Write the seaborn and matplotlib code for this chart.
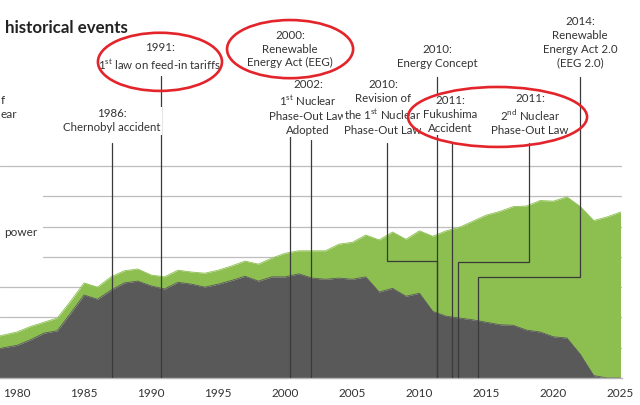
import matplotlib
matplotlib.use("Agg")
import matplotlib.pyplot as plt
from matplotlib.patches import Ellipse
import seaborn as sns
import pandas as pd

# generation in TWh
years = list(range(1978, 2026))
nuclear = [45, 50, 54, 63, 74, 78, 107, 137, 130, 145, 157, 160, 152, 147, 158, 155,
           150, 155, 161, 168, 160, 167, 167, 172, 165, 163, 165, 163, 167, 142, 148, 135,
           140, 110, 102, 99, 96, 92, 88, 87, 79, 76, 68, 66, 39, 4, 0, 0]
total = [66, 71, 76, 85, 92, 99, 127, 157, 150, 167, 177, 180, 170, 167, 178, 175,
         173, 178, 185, 193, 188, 198, 206, 210, 210, 210, 221, 224, 236, 228, 241, 229,
         243, 234, 243, 249, 259, 269, 275, 283, 284, 293, 292, 299, 283, 260, 266, 274]

tick_years = [1980, 1985, 1990, 1995, 2000, 2005, 2010, 2015, 2020, 2025]
grid_levels = [50, 100, 150, 200, 250, 300, 350]

# event labels: text, label x, label y, line top, line x at label, elbow y, line x at bottom
event_texts = [
    "1986:\nChernobyl accident",
    "1991:\n1$^{\\mathrm{st}}$ law on feed-in tariffs",
    "2000:\nRenewable\nEnergy Act (EEG)",
    "2002:\n1$^{\\mathrm{st}}$ Nuclear\nPhase-Out Law\nAdopted",
    "2010:\nRevision of\nthe 1$^{\\mathrm{st}}$ Nuclear\nPhase-Out Law",
    "2010:\nEnergy Concept",
    "2011:\nFukushima\nAccident",
    "2011:\n2$^{\\mathrm{nd}}$ Nuclear\nPhase-Out Law",
    "2014:\nRenewable\nEnergy Act 2.0\n(EEG 2.0)",
]
event_label_x = [1987.08, 1990.66, 2000.36, 2001.70, 2007.29, 2011.32, 2012.29, 2018.25, 2021.98]
event_label_y = [425, 530, 543, 447, 447, 531, 435, 435, 554]
event_line_top = [388, 499, 497, 393, 388, 497, 388, 388, 497]
event_top_x = [1987.08, 1990.74, 2000.36, 2001.92, 2007.59, 2011.32, 2012.44, 2018.18, 2021.98]
event_elbow_y = [None, None, None, None, 193, None, None, 192, 167]
event_base_x = [1987.08, 1990.74, 2000.36, 2001.92, 2011.32, 2011.32, 2012.44, 2012.89, 2014.38]

# red circles: centre x, centre y, width (years), height
circle_x = [1990.66, 2000.36, 2015.83]
circle_y = [522, 543, 431]
circle_w = [9.25, 9.4, 13.35]
circle_h = [96, 96, 99]

df = pd.DataFrame({"year": years, "nuclear": nuclear, "total": total})

sns.set_theme(style="white")
plt.rcParams['font.family'] = ['Lato', 'DejaVu Sans']
plt.rcParams['mathtext.fontset'] = 'custom'
plt.rcParams['mathtext.rm'] = 'Lato'

fig = plt.figure(figsize=(6.4, 4.05), dpi=100)
ax = fig.add_axes([0, 27 / 405, 622 / 640, 378 / 405])

grey = "#5a5959"
green = "#8cbf50"
txt = "#333333"

for lev in grid_levels:
    start = 0.069 if lev in (200, 250, 300) else 0
    ax.axhline(lev, xmin=start, xmax=1, color="#bdbdbd", lw=0.9, zorder=0)

ax.fill_between(df["year"], df["nuclear"], df["total"], color=green, lw=0, zorder=1)
ax.fill_between(df["year"], 0, df["nuclear"], color=grey, lw=0, zorder=2)
sns.lineplot(data=df, x="year", y="total", color=green, lw=0.6, ax=ax, zorder=1)
sns.lineplot(data=df, x="year", y="nuclear", color=grey, lw=0.6, ax=ax, zorder=2)

for i in range(len(event_texts)):
    if event_elbow_y[i] is None:
        xs = [event_top_x[i], event_base_x[i]]
        ys = [event_line_top[i], 0]
    else:
        xs = [event_top_x[i], event_top_x[i], event_base_x[i], event_base_x[i]]
        ys = [event_line_top[i], event_elbow_y[i], event_elbow_y[i], 0]
    ax.plot(xs, ys, color="#3a3a3a", lw=0.9, zorder=3, solid_joinstyle="miter")

for i in range(len(event_texts)):
    ax.text(event_label_x[i], event_label_y[i], event_texts[i], ha="center", va="center",
            fontsize=8.3, color=txt, linespacing=1.3, zorder=4,
            bbox=dict(facecolor="white", edgecolor="none", pad=1.2))

for cx, cy, w, h in zip(circle_x, circle_y, circle_w, circle_h):
    ax.add_patch(Ellipse((cx, cy), w, h, fill=False, edgecolor="#e3242b", lw=1.9, zorder=5))

ax.set_xlim(1978.732, 2025.11)
ax.set_ylim(0, 624.1)
ax.set_xticks(tick_years)
ax.set_xticklabels([str(t) for t in tick_years])
ax.set_yticks([])
ax.set_xlabel("")
ax.set_ylabel("")
ax.tick_params(axis="x", length=0, pad=7, labelsize=8.5, labelcolor=txt)
for s in ["left", "right", "top"]:
    ax.spines[s].set_visible(False)
ax.spines["bottom"].set_color("#b5b5b5")
ax.spines["bottom"].set_linewidth(1)

fig.text(5 / 640, 1 - 28 / 405, "historical events", fontsize=12.2, fontweight="bold",
         color="#222222", va="center", ha="left")
# fragments of the legend text, cut by the left edge of the crop
fig.text(0.5 / 640, 1 - 100 / 405, "f", fontsize=8.5, color=txt, va="center", ha="left")
fig.text(0.5 / 640, 1 - 115 / 405, "ear", fontsize=8.5, color=txt, va="center", ha="left")
fig.text(4 / 640, 1 - 233 / 405, "power", fontsize=8.5, color=txt, va="center", ha="left")

fig.savefig("out.png", dpi=100)
